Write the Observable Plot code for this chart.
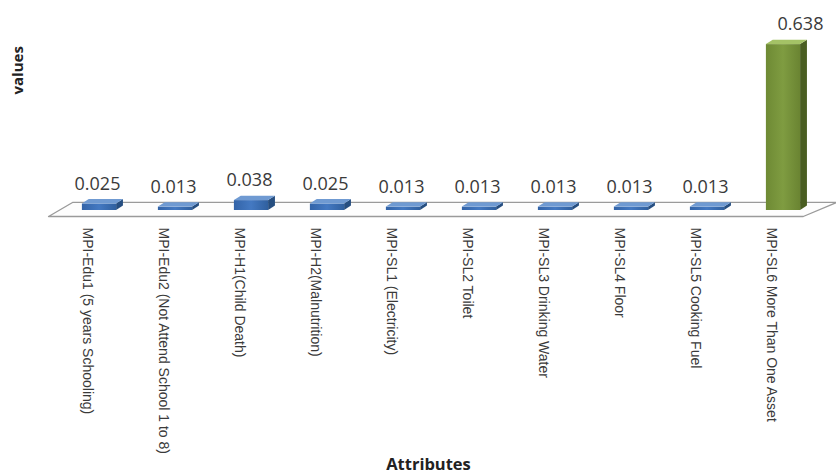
<!DOCTYPE html>
<html>
<head>
<meta charset="utf-8">
<script src="https://cdn.jsdelivr.net/npm/d3@7"></script>
<script src="https://cdn.jsdelivr.net/npm/@observablehq/plot@0.6"></script>
<style>
  html, body { margin: 0; padding: 0; background: #fff; }
  #chart { width: 836px; height: 475px; }
</style>
</head>
<body>
<div id="chart"></div>
<script>
// ---- data ----
const categories = [
  "MPI-Edu1 (5 years Schooling)",
  "MPI-Edu2 (Not Attend School 1 to 8)",
  "MPI-H1(Child Death)",
  "MPI-H2(Malnutrition)",
  "MPI-SL1 (Electricity)",
  "MPI-SL2 Toilet",
  "MPI-SL3 Drinking Water",
  "MPI-SL4 Floor",
  "MPI-SL5 Cooking Fuel",
  "MPI-SL6 More Than One Asset"
];
const values = [0.025, 0.013, 0.038, 0.025, 0.013, 0.013, 0.013, 0.013, 0.013, 0.638];
const highlighted = ["MPI-SL6 More Than One Asset"];
const yTitle = "values";
const xTitle = "Attributes";

// ---- build ----
const data = categories.map((name, i) => ({i, name, value: values[i], hi: highlighted.includes(name)}));
const hw = 0.225;      // half bar width (index units)
const dX = 0.09;       // 3D depth in x (index units)
const dY = 0.017;      // 3D depth in y (value units)

const palette = {
  blue: {front: "url(#gBlueFront)", side: "#264E80", top: "#6F9AD2"},
  green: {front: "url(#gGreenFront)", side: "#4A5E22", top: "#A4C266"}
};
const pal = d => d.hi ? palette.green : palette.blue;

const sidePts = data.flatMap(d => [
  {i: d.i, x: d.i + hw, y1: 0, y2: d.value, fill: pal(d).side},
  {i: d.i, x: d.i + hw + dX, y1: dY, y2: d.value + dY, fill: pal(d).side}
]);
const topPts = data.flatMap(d => [
  {i: d.i, x: d.i - hw, y1: d.value, y2: d.value, fill: pal(d).top},
  {i: d.i, x: d.i - hw + dX, y1: d.value, y2: d.value + dY, fill: pal(d).top},
  {i: d.i, x: d.i + hw, y1: d.value, y2: d.value + dY, fill: pal(d).top},
  {i: d.i, x: d.i + hw + dX, y1: d.value + dY, y2: d.value + dY, fill: pal(d).top}
]);

const n = categories.length;
const floorBack = 0.031, floorFront = -0.023;
const floor = [
  {x: -0.67, y: floorFront},
  {x: n - 1 + 0.26, y: floorFront},
  {x: n - 1 + 0.7, y: floorBack},
  {x: -0.355, y: floorBack},
  {x: -0.67, y: floorFront}
];

const plot = Plot.plot({
  width: 836,
  height: 475,
  marginLeft: 61,
  marginRight: 15,
  marginTop: 28,
  marginBottom: 265,
  x: {type: "linear", domain: [-0.5, n - 0.5], axis: null},
  y: {domain: [0, 0.7], axis: null},
  style: {background: "#fff", overflow: "visible"},
  marks: [
    Plot.line(floor, {x: "x", y: "y", stroke: "#9a9a9a", strokeWidth: 1.3, fill: "#fdfdfd"}),
    Plot.rect(data, {x1: d => d.i - hw, x2: d => d.i + hw, y1: 0, y2: "value", fill: d => pal(d).front}),
    Plot.areaY(sidePts, {x: "x", y1: "y1", y2: "y2", z: "i", fill: "fill"}),
    Plot.areaY(topPts, {x: "x", y1: "y1", y2: "y2", z: "i", fill: "fill"}),
    Plot.text(data, {x: d => d.hi ? d.i + 0.25 : d.i, y: "value", text: d => d.value.toFixed(3), dy: -20, dx: -2,
      fontSize: 18, fontFamily: "Open Sans", fill: "#3a3a3a"}),
    Plot.text(data, {x: "i", y: 0, text: "name", rotate: 90, textAnchor: "start", dx: -12, dy: 17,
      fontSize: 14, fontFamily: "Liberation Sans", fill: "#3a3a3a"}),
    Plot.text([yTitle], {frameAnchor: "left", text: d => d, rotate: -90, dx: -43, dy: -25,
      fontSize: 15, fontWeight: "bold", fontFamily: "Open Sans", fill: "#222"}),
    Plot.text([xTitle], {frameAnchor: "bottom", text: d => d, dx: -13, dy: 259,
      fontSize: 16.5, fontWeight: "bold", fontFamily: "Open Sans", fill: "#222"})
  ]
});

// gradients for the front faces
const defs = d3.select(plot).insert("defs", ":first-child");
const g1 = defs.append("linearGradient").attr("id", "gBlueFront").attr("x1", 0).attr("x2", 1).attr("y1", 0).attr("y2", 0);
g1.append("stop").attr("offset", 0).attr("stop-color", "#3364A8");
g1.append("stop").attr("offset", 0.5).attr("stop-color", "#4479C2");
g1.append("stop").attr("offset", 1).attr("stop-color", "#30609F");
const g2 = defs.append("linearGradient").attr("id", "gGreenFront").attr("x1", 0).attr("x2", 1).attr("y1", 0).attr("y2", 0);
g2.append("stop").attr("offset", 0).attr("stop-color", "#6E8A34");
g2.append("stop").attr("offset", 0.5).attr("stop-color", "#7F9C41");
g2.append("stop").attr("offset", 1).attr("stop-color", "#6A8432");

document.getElementById("chart").appendChild(plot);
</script>
</body>
</html>
